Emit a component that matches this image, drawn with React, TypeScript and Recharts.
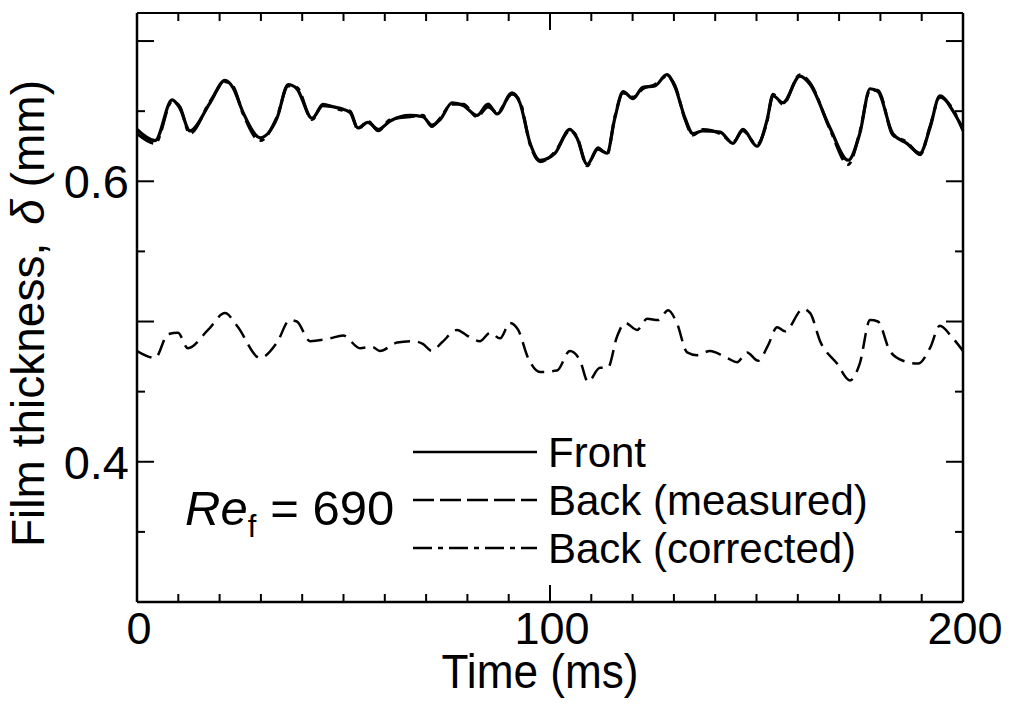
import React from "react";
import { Legend, Line, LineChart, XAxis, YAxis } from "recharts";

// film thickness traces, time in ms, thickness in mm
const frontTime = [
  0, 4.4, 8.5, 10.4, 12.8, 17.7, 21.3, 23.2, 25.7, 29.8, 33.9, 36.6, 38.7, 42.4, 45, 49.2, 51.6, 53.5,
  55.9, 58.4, 61.3, 66.1, 69.2, 71.4, 73.4, 76.3, 79, 82.3, 85, 87.2, 90.8, 92.7, 95.2, 97.6, 101.2,
  104.8, 106.5, 109, 111.6, 113.8, 115.7, 117.7, 120.1, 122.5, 125.4, 128.3, 130.3, 132.7, 134.6, 137,
  141.2, 144.3, 146.7, 150.1, 152.5, 154, 156.4, 160.5, 163, 167.8, 172.2, 175, 177.5, 179.4, 183,
  186.4, 189.6, 192, 194.4, 197.6, 200
];
const frontThickness = [
  0.637, 0.629, 0.658, 0.652, 0.636, 0.656, 0.672, 0.667, 0.649, 0.631, 0.645, 0.669, 0.666, 0.645,
  0.654, 0.652, 0.649, 0.638, 0.642, 0.637, 0.643, 0.647, 0.646, 0.64, 0.644, 0.656, 0.654, 0.647,
  0.655, 0.648, 0.663, 0.656, 0.627, 0.615, 0.62, 0.637, 0.631, 0.612, 0.623, 0.62, 0.645, 0.664,
  0.659, 0.667, 0.668, 0.676, 0.667, 0.645, 0.634, 0.636, 0.635, 0.627, 0.637, 0.625, 0.643, 0.661,
  0.656, 0.675, 0.669, 0.638, 0.615, 0.634, 0.666, 0.664, 0.634, 0.627, 0.62, 0.638, 0.661, 0.65,
  0.637
];
// corrected back trace shares the front time base
const correctedThickness = [
  0.634, 0.627, 0.657, 0.653, 0.634, 0.657, 0.671, 0.668, 0.648, 0.629, 0.646, 0.668, 0.667, 0.644,
  0.655, 0.651, 0.65, 0.637, 0.643, 0.636, 0.644, 0.646, 0.647, 0.639, 0.645, 0.655, 0.655, 0.646,
  0.653, 0.649, 0.662, 0.657, 0.626, 0.614, 0.621, 0.636, 0.632, 0.611, 0.624, 0.619, 0.646, 0.663,
  0.66, 0.666, 0.669, 0.675, 0.668, 0.644, 0.633, 0.637, 0.634, 0.628, 0.636, 0.626, 0.642, 0.662,
  0.655, 0.676, 0.67, 0.637, 0.612, 0.635, 0.665, 0.665, 0.633, 0.628, 0.619, 0.639, 0.66, 0.651,
  0.636
];
const measuredTime = [
  0, 4.4, 7.5, 9.9, 12.3, 17.2, 21.3, 24.2, 29.8, 33.9, 37, 38.7, 41.9, 46.7, 49.9, 54, 56.9, 58.8, 63,
  66.8, 69.2, 71.4, 73.8, 77.5, 79.9, 83, 85.5, 87.9, 90.3, 92.3, 94.7, 97.6, 101.7, 104.8, 107.3,
  109.2, 112.1, 114, 116.2, 118.2, 121.1, 123.5, 126.2, 128.6, 130.7, 133.2, 135.6, 138.7, 142.9,
  145.3, 147.7, 150.4, 152.8, 155, 156.9, 161.3, 163, 165.4, 169.5, 172.6, 175, 177.5, 179.4, 182.3,
  185.5, 189.1, 192, 194.4, 197.3, 200
];
const measuredThickness = [
  0.479, 0.474, 0.491, 0.492, 0.481, 0.494, 0.506, 0.497, 0.474, 0.485, 0.501, 0.5, 0.486, 0.488,
  0.49, 0.481, 0.482, 0.479, 0.485, 0.486, 0.484, 0.479, 0.485, 0.494, 0.49, 0.486, 0.492, 0.488,
  0.499, 0.494, 0.474, 0.464, 0.465, 0.479, 0.472, 0.457, 0.467, 0.467, 0.489, 0.499, 0.494, 0.502,
  0.501, 0.508, 0.499, 0.478, 0.476, 0.479, 0.474, 0.471, 0.478, 0.472, 0.483, 0.496, 0.493, 0.509,
  0.506, 0.486, 0.47, 0.458, 0.47, 0.501, 0.5, 0.479, 0.472, 0.47, 0.481, 0.497, 0.489, 0.479
];

const xTicks = [0, 10, 20, 30, 40, 50, 60, 70, 80, 90, 100, 110, 120, 130, 140, 150, 160, 170, 180, 190, 200];
const xTickLabels = [0, 100, 200];
const yTicks = [0.35, 0.4, 0.45, 0.5, 0.55, 0.6, 0.65, 0.7];
const yTickLabels = [0.4, 0.6];

const seriesNames = ["Front", "Back (measured)", "Back (corrected)"];
const seriesDashes = ["", "21 6", "19 6 5 6"];

const FONT = '"Liberation Sans", Arial, Helvetica, sans-serif';

const frontData = frontTime.map((t, i) => ({ t, v: frontThickness[i] }));
const correctedData = frontTime.map((t, i) => ({ t, v: correctedThickness[i] }));
const measuredData = measuredTime.map((t, i) => ({ t, v: measuredThickness[i] }));

function isMajorY(v: number) {
  return Math.abs(v * 10 - Math.round(v * 10)) < 1e-6;
}

function xTick(side: "bottom" | "top") {
  return (props: any) => {
    const { x, y, payload } = props;
    const v = payload.value as number;
    const len = v % 100 === 0 ? 17 : 8;
    const dir = side === "bottom" ? -1 : 1;
    return (
      <g>
        <line x1={x} x2={x} y1={y} y2={y + dir * len} stroke="#000" strokeWidth={2} />
        {side === "bottom" && xTickLabels.includes(v) && (
          <text x={x + 2} y={y + 42} textAnchor="middle" fontSize={45} fill="#000">
            {v}
          </text>
        )}
      </g>
    );
  };
}

function yTick(side: "left" | "right") {
  return (props: any) => {
    const { x, y, payload } = props;
    const v = payload.value as number;
    const len = isMajorY(v) ? 17 : 8;
    const dir = side === "left" ? 1 : -1;
    const labelled = side === "left" && yTickLabels.some((l) => Math.abs(l - v) < 1e-6);
    return (
      <g>
        <line x1={x} x2={x + dir * len} y1={y} y2={y} stroke="#000" strokeWidth={2} />
        {labelled && (
          <text x={x - 8} y={y + 17} textAnchor="end" fontSize={47} fill="#000">
            {v.toFixed(1)}
          </text>
        )}
      </g>
    );
  };
}

function renderLegend() {
  return (
    <svg width={480} height={175}>
      {seriesNames.map((name, i) => (
        <g key={name}>
          <line
            x1={13}
            x2={137}
            y1={32 + i * 48}
            y2={32 + i * 48}
            stroke="#000"
            strokeWidth={2.5}
            strokeDasharray={seriesDashes[i] || undefined}
          />
          <text x={148} y={47 + i * 48} fontSize={42} fill="#000" fontFamily={FONT}>
            {name}
          </text>
        </g>
      ))}
    </svg>
  );
}

export default function App() {
  return (
    <div
      style={{
        position: "absolute",
        left: 0,
        top: 0,
        width: 1013,
        height: 708,
        background: "#fff",
        fontFamily: FONT
      }}
    >
      <LineChart width={1013} height={708} margin={{ top: 11, right: 48, bottom: 0, left: 0 }}>
        <XAxis
          dataKey="t"
          type="number"
          domain={[0, 200]}
          ticks={xTicks}
          interval={0}
          tickSize={0}
          tickMargin={0}
          height={106}
          axisLine={{ stroke: "#000", strokeWidth: 2.5 }}
          tick={xTick("bottom")}
          allowDataOverflow
          label={() => (
            <text
              x={540}
              y={688}
              textAnchor="middle"
              fontSize={48}
              textLength={197}
              lengthAdjust="spacingAndGlyphs"
              fill="#000"
            >
              Time (ms)
            </text>
          )}
        />
        <XAxis
          xAxisId="top"
          dataKey="t"
          orientation="top"
          type="number"
          domain={[0, 200]}
          ticks={xTicks}
          interval={0}
          tickSize={0}
          tickMargin={0}
          height={2}
          axisLine={{ stroke: "#000", strokeWidth: 2 }}
          tick={xTick("top")}
          allowDataOverflow
        />
        <YAxis
          type="number"
          domain={[0.3, 0.72]}
          ticks={yTicks}
          interval={0}
          tickSize={0}
          tickMargin={0}
          width={137}
          axisLine={{ stroke: "#000", strokeWidth: 2.5 }}
          tick={yTick("left")}
          allowDataOverflow
          label={() => (
            <text
              x={44}
              y={547}
              transform="rotate(-90, 44, 547)"
              textAnchor="start"
              fontSize={46}
              fill="#000"
            >
              <tspan>Film thickness,</tspan>
              <tspan dx={18} fontStyle="italic">δ</tspan>
              <tspan dx={12}>(mm)</tspan>
            </text>
          )}
        />
        <YAxis
          yAxisId="right"
          orientation="right"
          type="number"
          domain={[0.3, 0.72]}
          ticks={yTicks}
          interval={0}
          tickSize={0}
          tickMargin={0}
          width={2}
          axisLine={{ stroke: "#000", strokeWidth: 2.5 }}
          tick={yTick("right")}
          allowDataOverflow
        />
        <Legend
          layout="vertical"
          align="center"
          verticalAlign="middle"
          wrapperStyle={{ left: 400, top: 420, width: 480, height: 175 }}
          content={renderLegend}
        />
        <Line
          data={measuredData}
          dataKey="v"
          name="Back (measured)"
          type="monotone"
          stroke="#000"
          strokeWidth={2.5}
          strokeDasharray="16 8"
          dot={false}
          isAnimationActive={false}
        />
        <Line
          data={correctedData}
          xAxisId="top"
          yAxisId="right"
          dataKey="v"
          name="Back (corrected)"
          type="monotone"
          stroke="#000"
          strokeWidth={3}
          strokeDasharray="19 6 5 6"
          dot={false}
          isAnimationActive={false}
        />
        <Line
          data={frontData}
          dataKey="v"
          name="Front"
          type="monotone"
          stroke="#000"
          strokeWidth={3.2}
          dot={false}
          isAnimationActive={false}
        />
      </LineChart>
      <svg
        width={1013}
        height={708}
        style={{ position: "absolute", left: 0, top: 0, pointerEvents: "none" }}
      >
        <text x={185} y={525} fontSize={49} fill="#000" fontFamily={FONT}>
          <tspan fontStyle="italic">Re</tspan>
          <tspan fontSize={31} dy={12}>f</tspan>
          <tspan dy={-12} dx={14}>= 690</tspan>
        </text>
      </svg>
    </div>
  );
}
